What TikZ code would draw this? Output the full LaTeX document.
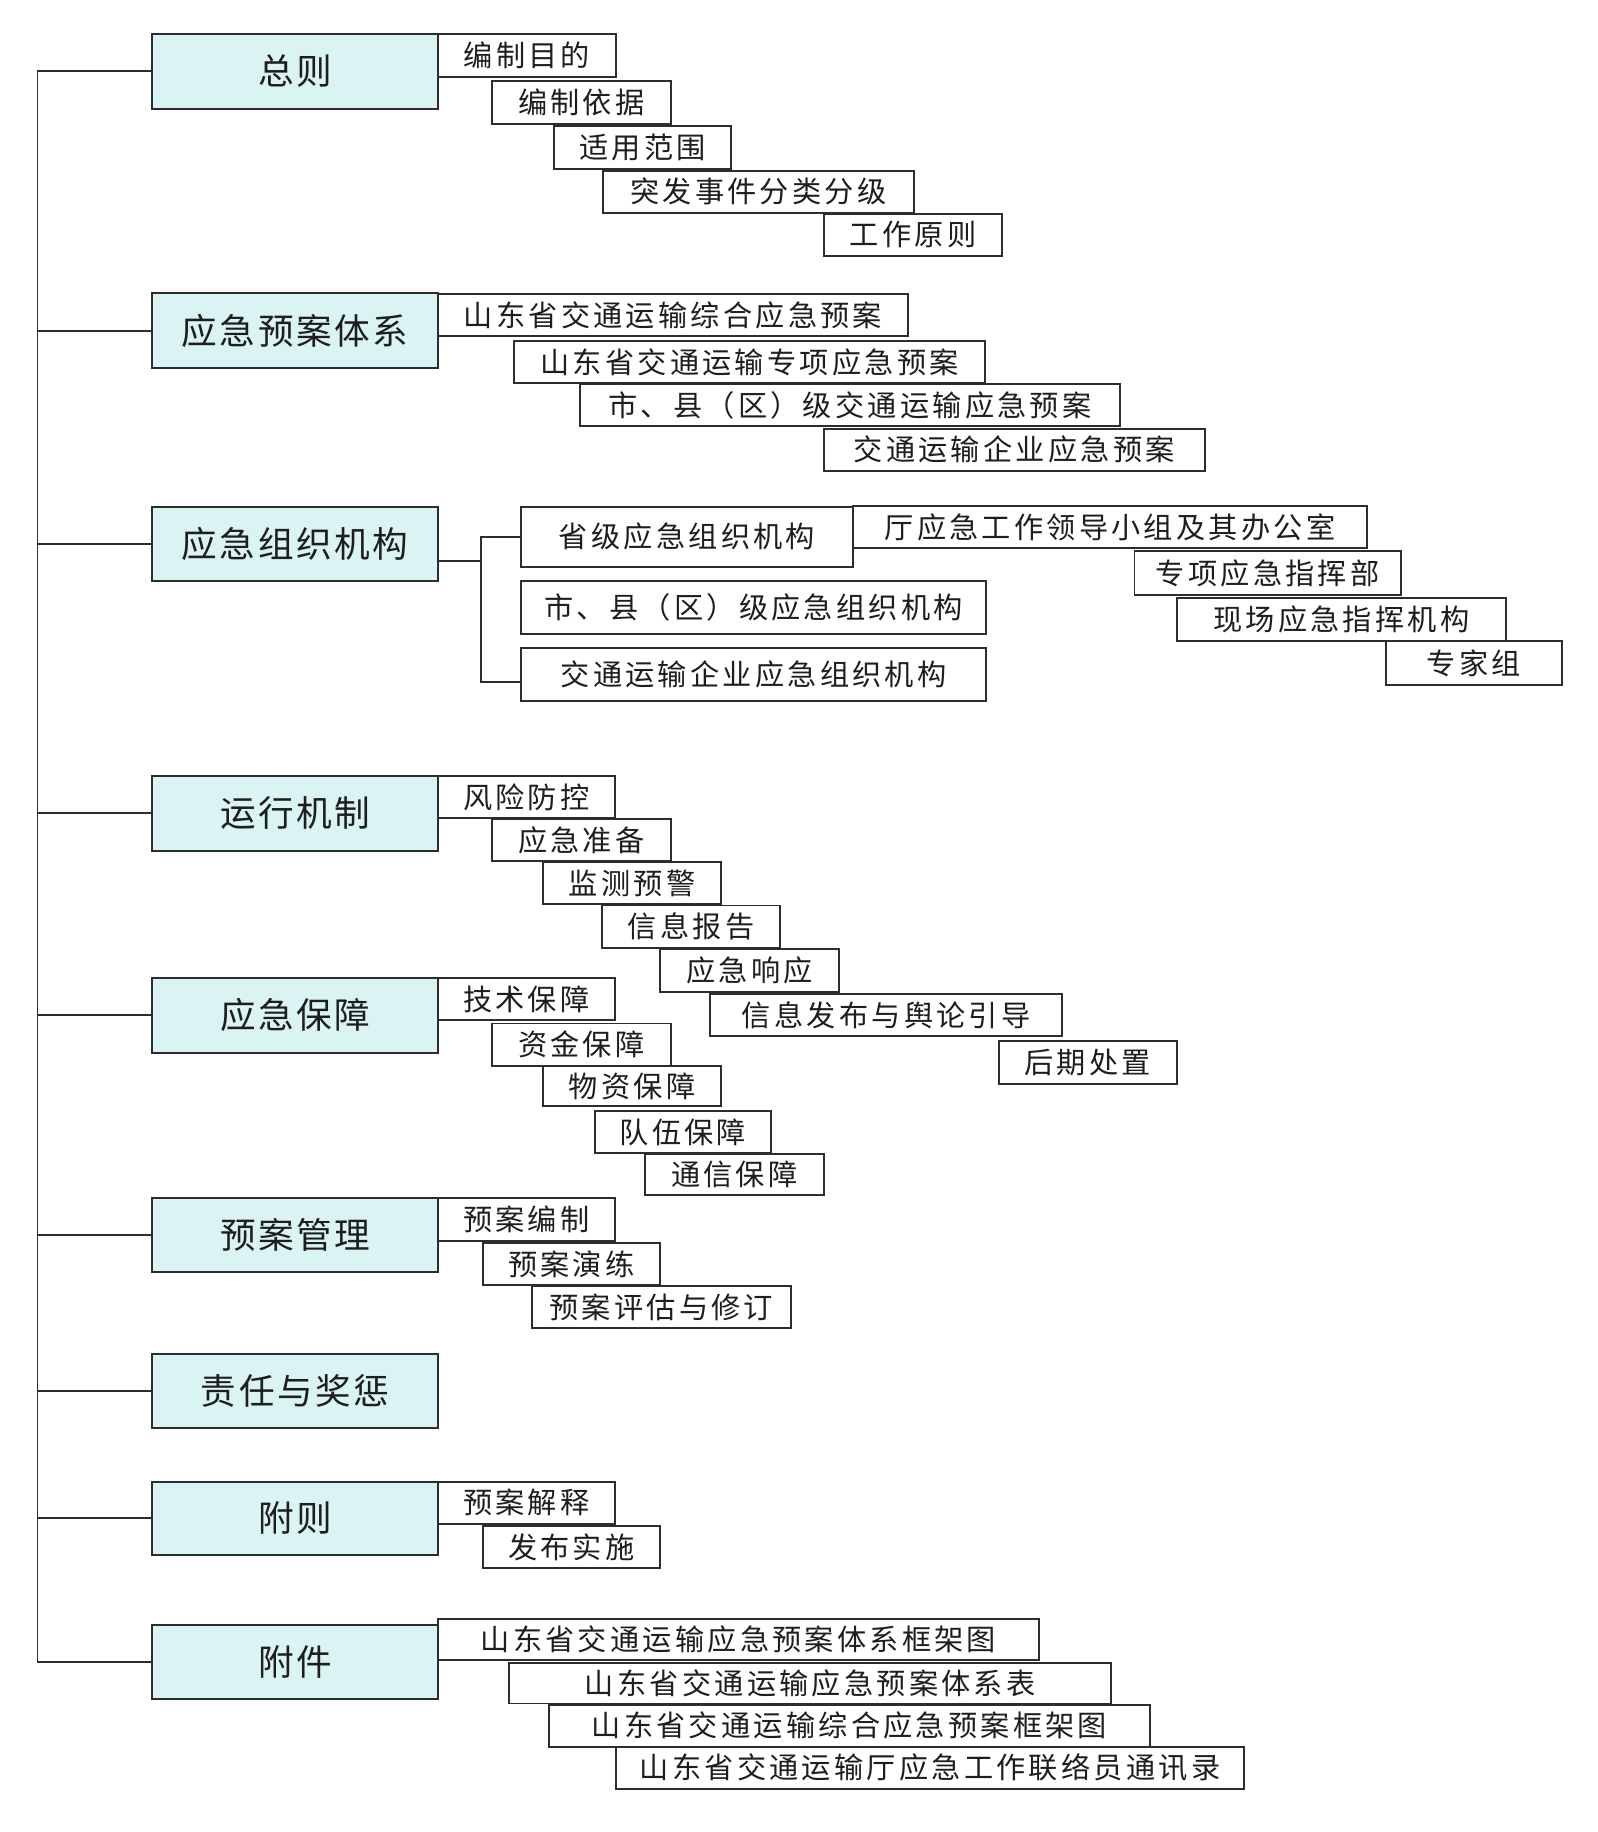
\documentclass[tikz,border=0pt]{standalone}
\usepackage{fontspec}
\newfontfamily\cjksub[LetterSpace=11]{Noto Sans CJK SC}
\newfontfamily\cjkmain[LetterSpace=7]{Noto Sans CJK SC}
\definecolor{mainfill}{RGB}{218,243,243}
\definecolor{linec}{RGB}{45,45,45}
\definecolor{textc}{RGB}{30,30,30}
\tikzset{
  mainbox/.style={draw=linec, fill=mainfill, line width=1.7pt, inner sep=0pt,
    font=\cjkmain\fontsize{30.5}{34}\selectfont, text=textc},
  subbox/.style={draw=linec, fill=white, line width=1.7pt, inner sep=0pt,
    font=\cjksub\fontsize{25}{30}\selectfont, text=textc},
  link/.style={draw=linec, line width=1.5pt}
}
\newcommand\mybox[7]{\node[#1, minimum width={#4pt-#2pt}, minimum height={#5pt-#3pt}] (#6) at ({(#2+#4)/2},{(#3+#5)/2}) {#7};}
\begin{document}
\begin{tikzpicture}[x=1pt,y=-1pt]
\useasboundingbox[fill=white] (0,0) rectangle (1367,1568);
% main boxes
\mybox{mainbox}{130}{29}{375}{93}{m1}{总则}
\mybox{mainbox}{130}{251}{375}{315}{m2}{应急预案体系}
\mybox{mainbox}{130}{434}{375}{497}{m3}{应急组织机构}
\mybox{mainbox}{130}{664}{375}{728}{m4}{运行机制}
\mybox{mainbox}{130}{837}{375}{901}{m5}{应急保障}
\mybox{mainbox}{130}{1025}{375}{1089}{m6}{预案管理}
\mybox{mainbox}{130}{1159}{375}{1222}{m7}{责任与奖惩}
\mybox{mainbox}{130}{1268}{375}{1331}{m8}{附则}
\mybox{mainbox}{130}{1391}{375}{1454}{m9}{附件}
% spine
\coordinate (sp) at (32,0);
\draw[link] (sp |- m1.west) -- (sp |- m9.west);
\foreach \i in {1,...,9}{\draw[link] (sp |- m\i.west) -- (m\i.west);}
% 总则
\mybox{subbox}{375}{29}{527}{66}{a1}{编制目的}
\mybox{subbox}{421}{69}{574}{106}{a2}{编制依据}
\mybox{subbox}{474}{108}{626}{145}{a3}{适用范围}
\mybox{subbox}{516}{146}{782}{182}{a4}{突发事件分类分级}
\mybox{subbox}{705}{183}{858}{219}{a5}{工作原则}
% 应急预案体系
\mybox{subbox}{375}{252}{777}{288}{b1}{山东省交通运输综合应急预案}
\mybox{subbox}{440}{292}{843}{328}{b2}{山东省交通运输专项应急预案}
\mybox{subbox}{496}{329}{959}{365}{b3}{市、县（区）级交通运输应急预案}
\mybox{subbox}{705}{367}{1031}{403}{b4}{交通运输企业应急预案}
% 应急组织机构
\mybox{subbox}{446}{434}{730}{485}{c1}{省级应急组织机构}
\mybox{subbox}{446}{497}{844}{543}{c2}{市、县（区）级应急组织机构}
\mybox{subbox}{446}{555}{844}{600}{c3}{交通运输企业应急组织机构}
\mybox{subbox}{730}{433}{1170}{469}{d1}{厅应急工作领导小组及其办公室}
\mybox{subbox}{971}{472}{1199}{509}{d2}{专项应急指挥部}
\mybox{subbox}{1007}{512}{1289}{549}{d3}{现场应急指挥机构}
\mybox{subbox}{1186}{549}{1337}{586}{d4}{专家组}
\coordinate (e0) at (412,480);
\coordinate (e1) at (412,459.5);
\coordinate (e3) at (412,584);
\draw[link] (m3.east |- e0) -- (e0);
\draw[link] (c1.west) -- (e1) -- (e3) -- (c3.west |- e3);
% 运行机制
\mybox{subbox}{375}{664}{526}{700}{r1}{风险防控}
\mybox{subbox}{421}{701}{574}{737}{r2}{应急准备}
\mybox{subbox}{465}{738}{617}{774}{r3}{监测预警}
\mybox{subbox}{515}{775}{668}{811}{r4}{信息报告}
\mybox{subbox}{565}{812}{718}{849}{r5}{应急响应}
\mybox{subbox}{608}{851}{909}{887}{r6}{信息发布与舆论引导}
\mybox{subbox}{855}{891}{1007}{928}{r7}{后期处置}
% 应急保障
\mybox{subbox}{375}{837}{526}{873}{f1}{技术保障}
\mybox{subbox}{421}{876}{574}{912}{f2}{资金保障}
\mybox{subbox}{465}{912}{617}{947}{f3}{物资保障}
\mybox{subbox}{509}{951}{660}{987}{f4}{队伍保障}
\mybox{subbox}{552}{988}{705}{1023}{f5}{通信保障}
% 预案管理
\mybox{subbox}{375}{1025}{526}{1062}{g1}{预案编制}
\mybox{subbox}{413}{1064}{565}{1100}{g2}{预案演练}
\mybox{subbox}{455}{1101}{677}{1137}{g3}{预案评估与修订}
% 附则
\mybox{subbox}{375}{1268}{526}{1304}{h1}{预案解释}
\mybox{subbox}{413}{1306}{565}{1342}{h2}{发布实施}
% 附件
\mybox{subbox}{375}{1386}{889}{1421}{i1}{山东省交通运输应急预案体系框架图}
\mybox{subbox}{436}{1423}{951}{1458}{i2}{山东省交通运输应急预案体系表}
\mybox{subbox}{470}{1459}{984}{1495}{i3}{山东省交通运输综合应急预案框架图}
\mybox{subbox}{527}{1495}{1065}{1531}{i4}{山东省交通运输厅应急工作联络员通讯录}
\end{tikzpicture}
\end{document}
